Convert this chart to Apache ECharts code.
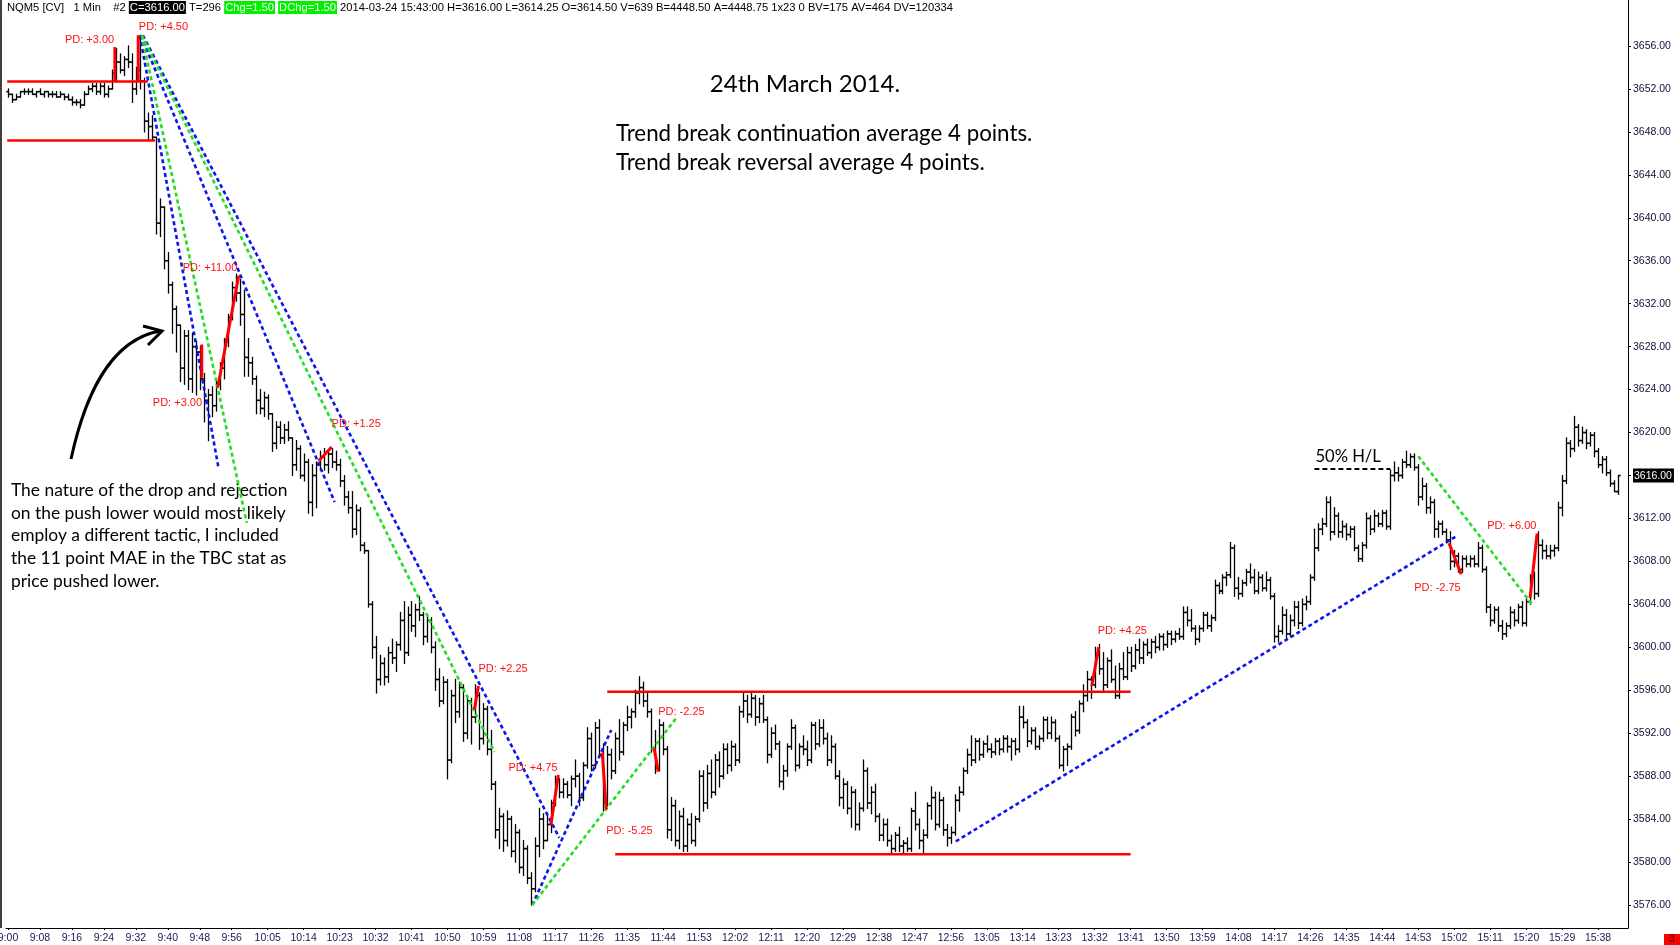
<!DOCTYPE html>
<html>
<head>
<meta charset="utf-8">
<title>NQM5 [CV] 1 Min – 24th March 2014</title>
<script src="https://cdn.jsdelivr.net/npm/echarts@6/dist/echarts.min.js"></script>
<style>
html,body{margin:0;padding:0;background:#fff;}
#chart{width:1680px;height:945px;}
</style>
</head>
<body>
<div id="chart"></div>
<script>
// ---------- categories: one bar per minute, 9:00 .. 15:43 ----------
const sessionStartMinute = 9 * 60;
const barCount = 404;
const times = [];
for (let m = 0; m < barCount; m++) {
  const t = sessionStartMinute + m;
  times.push(Math.floor(t / 60) + ':' + String(t % 60).padStart(2, '0'));
}

// ---------- tick labels ----------
const timeLabels = ['9:00','9:08','9:16','9:24','9:32','9:40','9:48','9:56','10:05','10:14','10:23','10:32','10:41','10:50','10:59','11:08','11:17','11:26','11:35','11:44','11:53','12:02','12:11','12:20','12:29','12:38','12:47','12:56','13:05','13:14','13:23','13:32','13:41','13:50','13:59','14:08','14:17','14:26','14:35','14:44','14:53','15:02','15:11','15:20','15:29','15:38'];
const priceTicks = [3576,3580,3584,3588,3592,3596,3600,3604,3608,3612,3616,3620,3624,3628,3632,3636,3640,3644,3648,3652,3656];
const lastPrice = 3616;

// ---------- OHLC bars [open, high, low, close], one array per hour ----------
const bars0900 = [
[3651.75,3652,3651.25,3651.5],[3651.5,3651.5,3650.75,3651],[3651,3651.5,3651,3651.25],[3651.25,3651.75,3651.25,3651.75],[3651.75,3652,3651.5,3651.75],
[3651.75,3652,3651.5,3651.75],[3651.75,3652,3651.5,3651.5],[3651.5,3651.75,3651.25,3651.75],[3651.75,3652,3651.5,3651.5],[3651.5,3651.75,3651.25,3651.75],
[3651.75,3651.75,3651.25,3651.5],[3651.5,3651.75,3651.25,3651.5],[3651.5,3651.75,3651.25,3651.25],[3651.25,3651.75,3651.25,3651.5],[3651.5,3651.5,3651,3651.25],
[3651.25,3651.5,3651,3651],[3651,3651.25,3650.5,3650.75],[3650.75,3651,3650.5,3650.75],[3650.75,3651,3650.25,3650.5],[3650.5,3651.75,3650.5,3651.5],
[3651.5,3652.25,3651.5,3652],[3652,3652.5,3651.75,3652.25],[3652.25,3652.5,3651.5,3651.75],[3651.75,3652.5,3651.5,3652.25],[3652.25,3652.5,3651.25,3651.5],
[3651.5,3652.25,3651.25,3652],[3652,3653.75,3652,3653.5],[3653.5,3655.75,3652.75,3654.5],[3654.5,3655.25,3653.5,3653.75],[3653.75,3655,3653.25,3654.75],
[3654.75,3656,3654,3654.5],[3654.5,3655.25,3650.75,3652],[3652,3654,3651.5,3653.75],[3653.75,3657,3652,3652.75],[3652.75,3653,3648,3649],
[3649,3649.75,3647.25,3648.5],[3648.5,3649.5,3647.25,3647.5],[3647.5,3647.5,3638.5,3639.5],[3639.5,3641.75,3638.25,3641],[3641,3641,3635.25,3636],
[3636,3636.75,3633,3633.75],[3633.75,3634,3629.25,3631.5],[3631.5,3631.75,3627.5,3630],[3630,3630,3624.75,3626],[3626,3629.5,3624.5,3629],
[3629,3629.5,3624,3625],[3625,3629.25,3623.75,3628],[3628,3628.5,3623.5,3627.5],[3627.5,3628,3624,3625],[3625,3625.5,3621,3623],
[3623,3624,3619.25,3623.5],[3623.5,3624.25,3621.5,3622.5],[3622.5,3625,3622,3624.5],[3624.5,3626.5,3624,3626],[3626,3628.75,3625,3628.5],
[3628.5,3631,3628,3630.75],[3630.75,3634,3630.5,3633.5],[3633.5,3634.75,3632.25,3633],[3633,3634.25,3630,3631],[3631,3633.25,3625.25,3627]
];
const bars1000 = [
[3627,3628.75,3625.25,3626.5],[3626.5,3627,3624.5,3625],[3625,3625.25,3621.75,3623],[3623,3624,3621.75,3622.25],[3622.25,3623.75,3621.5,3623.25],
[3623.25,3623.5,3621.25,3621.75],[3621.75,3621.75,3618.25,3619],[3619,3621,3618.5,3620.5],[3620.5,3621,3619,3619.5],[3619.5,3620.75,3619,3620.25],
[3620.25,3621,3619.25,3619.5],[3619.5,3619.5,3616,3617],[3617,3619.25,3616.5,3618.5],[3618.5,3618.75,3615.75,3616],[3616,3618,3615.5,3617.25],
[3617.25,3617.5,3612.5,3613.5],[3613.5,3617,3612.25,3616],[3616,3617.25,3613,3617],[3617,3618.25,3616.5,3617.75],[3617.75,3618.5,3616.5,3617],
[3617,3618.25,3616.25,3618],[3618,3618.5,3616.75,3617.25],[3617.25,3618.25,3616.5,3617],[3617,3617.5,3615,3615.5],[3615.5,3616,3613.25,3614],
[3614,3614.5,3612.5,3613],[3613,3614.5,3610.25,3611],[3611,3613.25,3610.5,3612.75],[3612.75,3613,3609,3609.5],[3609.5,3609.75,3608.75,3609],
[3609,3609,3603.75,3604],[3604,3604.25,3599,3600],[3600,3601,3595.75,3597],[3597,3599.25,3596.5,3598.5],[3598.5,3599,3596.5,3597.25],
[3597.25,3600,3596.75,3599.5],[3599.5,3600.75,3598.5,3599],[3599,3600.5,3597.75,3600.25],[3600.25,3603.25,3599.75,3602.5],[3602.5,3604.25,3598.5,3599.5],
[3599.5,3603.75,3599.25,3603],[3603,3604.25,3601.5,3602],[3602,3604,3601,3603.5],[3603.5,3604.75,3602.5,3603],[3603,3603.25,3600.25,3601],
[3601,3603,3600.5,3602.5],[3602.5,3602.75,3599.5,3600],[3600,3600.5,3596,3597],[3597,3598,3594.5,3595],[3595,3597.25,3594.75,3596.75],
[3596.75,3597,3587.75,3589.5],[3589.5,3596,3589.25,3595.5],[3595.5,3597,3593,3594],[3594,3596.75,3593.5,3596.25],[3596.25,3596.5,3591.25,3592],
[3592,3595.5,3591.5,3595],[3595,3595.25,3591,3593.5],[3593.5,3596.5,3593,3595.5],[3595.5,3595.75,3590.5,3591.5],[3591.5,3594.75,3591,3594.25]
];
const bars1100 = [
[3594.25,3594.5,3590,3590.5],[3590.5,3592.25,3586.75,3587.25],[3587.25,3587.5,3582.25,3583],[3583,3585,3581.25,3584.25],[3584.25,3584.5,3581,3582],
[3582,3584.75,3581.5,3584],[3584,3584.25,3580.5,3581],[3581,3583.5,3580,3582.75],[3582.75,3583,3579,3579.5],[3579.5,3582,3578.75,3581.25],
[3581.25,3581.5,3578,3578.5],[3578.5,3579,3576,3577.5],[3577.5,3582.25,3577.25,3581.5],[3581.5,3585,3580.5,3584],[3584,3584.5,3581.25,3582],
[3582,3584.5,3582,3583.5],[3583.5,3585.75,3582.75,3585.5],[3585.5,3588,3585.25,3587.5],[3587.5,3587.75,3586,3586.5],[3586.5,3587.75,3586,3587.25],
[3587.25,3587.5,3586,3586.25],[3586.25,3588,3585.25,3587.75],[3587.75,3589.5,3587,3588],[3588,3588.25,3585.25,3586],[3586,3589.25,3585.75,3589],
[3589,3592.5,3588.75,3591.5],[3591.5,3592,3588.5,3589],[3589,3593,3588.75,3592.5],[3592.5,3593.25,3589.75,3590],[3590,3591,3584.75,3585.5],
[3585.5,3590.75,3585.25,3590],[3590,3590.5,3587.75,3588.5],[3588.5,3592,3588.25,3591.5],[3591.5,3593.25,3589.5,3590.25],[3590.25,3593,3590,3592.75],
[3592.75,3594.5,3592.25,3593.5],[3593.5,3594.25,3592.5,3594],[3594,3596,3593.5,3595.75],[3595.75,3597.25,3594.75,3596.25],[3596.25,3596.75,3594.5,3595],
[3595,3595.75,3593.5,3594],[3594,3594.25,3590.25,3590.5],[3590.5,3592.25,3588.25,3588.75],[3588.75,3593.25,3588.5,3592.75],[3592.75,3593,3590,3590.5],
[3590.5,3590.75,3582.25,3583],[3583,3586,3582,3585.25],[3585.25,3585.75,3581.5,3582],[3582,3584.75,3581.25,3584.25],[3584.25,3585,3581,3581.5],
[3581.5,3584,3581,3583.5],[3583.5,3584.5,3581.75,3582],[3582,3584.25,3581.5,3584],[3584,3588.5,3583.75,3588],[3588,3588.5,3584.75,3585.5],
[3585.5,3589,3585,3588.25],[3588.25,3589.5,3586,3586.5],[3586.5,3590,3586.25,3589.5],[3589.5,3590.25,3587,3588],[3588,3591,3587.75,3590.5]
];
const bars1200 = [
[3590.5,3591,3588.25,3589],[3589,3591.25,3588.5,3590.75],[3590.75,3591,3589,3589.5],[3589.5,3594.5,3589.25,3594],[3594,3595.75,3593.5,3595],
[3595,3595.5,3593,3593.75],[3593.75,3595.75,3593.5,3595.25],[3595.25,3595.5,3592.75,3593.5],[3593.5,3595.25,3593,3594.75],[3594.75,3595.5,3593,3593.25],
[3593.25,3593.5,3589.25,3590],[3590,3592.5,3589.75,3592],[3592,3592.75,3590.5,3591],[3591,3591.25,3587,3587.5],[3587.5,3589,3586.75,3588.5],
[3588.5,3591,3588,3590.75],[3590.75,3593.25,3590.5,3592.5],[3592.5,3592.75,3588.5,3589],[3589,3591,3588.75,3590.75],[3590.75,3591.75,3590,3590.5],
[3590.5,3591.25,3589,3589.5],[3589.5,3593,3589.25,3592.75],[3592.75,3593,3590.5,3591],[3591,3593.25,3590.75,3592.5],[3592.5,3593.25,3591,3591.5],
[3591.5,3592,3589,3589.5],[3589.5,3591.75,3589.25,3590.75],[3590.75,3591,3587.75,3588],[3588,3588.5,3585.25,3586],[3586,3587.75,3585,3587.25],
[3587.25,3587.5,3584.5,3585],[3585,3587,3583.25,3586.5],[3586.5,3586.75,3583,3583.5],[3583.5,3585.5,3583,3585],[3585,3589.5,3584.75,3588.5],
[3588.5,3588.75,3585,3585.5],[3585.5,3587,3584.5,3586.5],[3586.5,3587.25,3583.75,3584.25],[3584.25,3584.5,3582,3582.5],[3582.5,3584,3582,3583.5],
[3583.5,3584,3581.5,3582],[3582,3582.5,3580.75,3581.25],[3581.25,3582.75,3581,3582.5],[3582.5,3583.25,3581,3581.5],[3581.5,3582,3580.75,3581.75],
[3581.75,3582.25,3581,3581.25],[3581.25,3585,3581,3584.75],[3584.75,3586.5,3583,3583.5],[3583.5,3584,3581.25,3582],[3582,3583,3580.75,3582.5],
[3582.5,3585.5,3582.25,3585.25],[3585.25,3587,3584,3586],[3586,3586.5,3583,3583.5],[3583.5,3586.5,3583.25,3585.75],[3585.75,3586,3582.5,3583],
[3583,3583.5,3581.5,3582.25],[3582.25,3583.25,3581.75,3582.75],[3582.75,3586.25,3582.5,3585.75],[3585.75,3587,3584.75,3586.5],[3586.5,3588.75,3586.25,3588.5]
];
const bars1300 = [
[3588.5,3590.5,3588.25,3590],[3590,3591.75,3589,3589.5],[3589.5,3591.5,3589.25,3591.25],[3591.25,3591.5,3589.5,3590],[3590,3591.25,3589.75,3591],
[3591,3591.75,3590.25,3590.5],[3590.5,3591,3589.75,3590.25],[3590.25,3591.5,3590,3591.25],[3591.25,3591.5,3590,3590.5],[3590.5,3591.75,3590.25,3591.5],
[3591.5,3591.75,3590.25,3590.75],[3590.75,3591.5,3589.5,3591.25],[3591.25,3591.5,3590,3590.5],[3590.5,3594.5,3590.25,3593.5],[3593.5,3594.5,3592.5,3593],
[3593,3593.25,3590.75,3591.25],[3591.25,3592.5,3591,3592.25],[3592.25,3592.5,3590.5,3590.75],[3590.75,3591.75,3590.5,3591.5],[3591.5,3593.5,3591.25,3593.25],
[3593.25,3593.5,3591.5,3592],[3592,3593.5,3591.5,3593],[3593,3593.25,3591.25,3591.5],[3591.5,3591.75,3588.75,3589],[3589,3590.75,3588.5,3590.5],
[3590.5,3591,3589,3590.75],[3590.75,3593.75,3590.5,3593.5],[3593.5,3594,3591.75,3592.25],[3592.25,3595,3592,3594.75],[3594.75,3596.5,3594,3595.5],
[3595.5,3597.75,3595,3597],[3597,3597.25,3595.25,3596.5],[3596.5,3600,3596.25,3599.25],[3599.25,3600.25,3597.5,3598],[3598,3599.5,3596,3596.5],
[3596.5,3599,3596.25,3598.75],[3598.75,3599.75,3596.75,3597],[3597,3598.25,3595.25,3595.5],[3595.5,3598.5,3595.25,3598],[3598,3599.5,3597,3597.25],
[3597.25,3600,3597,3599.5],[3599.5,3600,3597.75,3598.25],[3598.25,3600.25,3598,3599.75],[3599.75,3600.75,3598.5,3599],[3599,3600.5,3598.5,3600.25],
[3600.25,3600.75,3599.25,3599.5],[3599.5,3600.75,3599,3600.5],[3600.5,3601,3599.5,3600],[3600,3601.25,3599.75,3601],[3601,3601.25,3599.75,3600.25],
[3600.25,3601.5,3600,3601.25],[3601.25,3601.5,3600.25,3600.75],[3600.75,3601.5,3600.5,3601.25],[3601.25,3601.75,3600.75,3601],[3601,3603.75,3600.75,3603.25],
[3603.25,3603.75,3602,3602.5],[3602.5,3603.5,3601.5,3601.75],[3601.75,3602,3600.25,3600.75],[3600.75,3602,3600.5,3601.75],[3601.75,3603.25,3601.5,3603]
];
const bars1400 = [
[3603,3603.25,3601.75,3602],[3602,3603,3601.5,3602.75],[3602.75,3606.25,3602.5,3605.75],[3605.75,3606,3605,3605.25],[3605.25,3606.75,3605,3606.5],
[3606.5,3607,3605.75,3606.75],[3606.75,3609.75,3606.5,3609.25],[3609.25,3609.5,3604.75,3605.5],[3605.5,3606.5,3604.5,3605],[3605,3606.25,3604.75,3606],
[3606,3607.25,3605.75,3607],[3607,3607.75,3606,3606.5],[3606.5,3607.25,3605,3605.25],[3605.25,3607,3605,3606.5],[3606.5,3606.75,3605.25,3605.5],
[3605.5,3607,3605.25,3606.25],[3606.25,3606.5,3604.5,3604.75],[3604.75,3605,3600.5,3601],[3601,3602,3600.5,3601.5],[3601.5,3603.75,3601.25,3603],
[3603,3603.5,3600.75,3601.25],[3601.25,3603,3601,3602.5],[3602.5,3604.25,3602,3603.75],[3603.75,3604.25,3601.75,3602.25],[3602.25,3604.5,3602,3604],
[3604,3604.75,3603.5,3604.25],[3604.25,3606.75,3604,3606.5],[3606.5,3611,3606.25,3609.25],[3609.25,3611.5,3609,3611],[3611,3612,3610.5,3611.5],
[3611.5,3614,3611.25,3613.5],[3613.5,3614,3610,3610.75],[3610.75,3613,3610.5,3612.25],[3612.25,3612.5,3610.25,3610.75],[3610.75,3611.75,3610.25,3611.25],
[3611.25,3611.5,3610,3610.5],[3610.5,3611.25,3610.25,3611],[3611,3611.25,3609,3609.25],[3609.25,3609.5,3608,3608.25],[3608.25,3609.75,3608,3609.5],
[3609.5,3612.5,3609.25,3612],[3612,3612.25,3610.5,3611],[3611,3612.75,3610.75,3612.25],[3612.25,3612.5,3611.25,3611.5],[3611.5,3612.75,3611.25,3612.5],
[3612.5,3612.75,3611,3611.25],[3611.25,3616.5,3611,3616],[3616,3617.25,3615.5,3616.25],[3616.25,3616.75,3615.5,3616],[3616,3617.5,3615.75,3617.25],
[3617.25,3618.25,3616.75,3617],[3617,3618,3616.75,3617.75],[3617.75,3618,3616.5,3616.75],[3616.75,3617,3613.25,3614],[3614,3615.75,3613.75,3615],
[3615,3615.25,3612.5,3613],[3613,3614,3612.5,3613.5],[3613.5,3613.75,3610.25,3611],[3611,3611.75,3610.25,3611.5],[3611.5,3611.75,3610.5,3610.75]
];
const bars1500 = [
[3610.75,3611,3609.75,3610],[3610,3610.75,3607.25,3608],[3608,3609,3607.5,3608.5],[3608.5,3608.75,3607,3607.25],[3607.25,3608.5,3607,3608.25],
[3608.25,3608.5,3607.5,3607.75],[3607.75,3608.5,3607.5,3608.25],[3608.25,3608.5,3607.5,3607.75],[3607.75,3609.75,3607.5,3609.25],[3609.25,3609.5,3607,3607.25],
[3607.25,3607.5,3603.25,3603.75],[3603.75,3604,3602,3602.5],[3602.5,3603.75,3602.25,3603.5],[3603.5,3603.75,3601.5,3602],[3602,3602.5,3600.75,3601.25],
[3601.25,3602.25,3601,3602],[3602,3603.75,3601.75,3603.25],[3603.25,3603.5,3602,3602.5],[3602.5,3604,3602.25,3603.75],[3603.75,3604.25,3602,3602.25],
[3602.25,3604.5,3602,3604.25],[3604.25,3606.75,3604,3606.5],[3606.5,3607,3604.5,3605],[3605,3610.75,3604.75,3609.5],[3609.5,3610,3608.25,3609],
[3609,3609.5,3608.25,3608.5],[3608.5,3609.5,3608.25,3609],[3609,3609.5,3608.5,3609.25],[3609.25,3613.5,3609,3613],[3613,3616,3612.25,3615.5],
[3615.5,3619.5,3615.25,3619],[3619,3619.25,3617.75,3618.5],[3618.5,3621.5,3618.25,3620.5],[3620.5,3620.75,3618.75,3619.25],[3619.25,3620.5,3619,3620],
[3620,3620.25,3618.5,3619],[3619,3620,3618.75,3619.75],[3619.75,3620,3617.75,3618.25],[3618.25,3618.5,3616.75,3617],[3617,3617.75,3616.25,3617.5],
[3617.5,3617.75,3616,3616.25],[3616.25,3616.5,3615,3615.25],[3615.25,3615.5,3614.5,3614.5],[3614.5,3616,3614.25,3616]
];

// ---------- annotation lines [barIndex1, price1, barIndex2, price2] ----------
const redLevels = [[-0.2,3652.7,35,3652.7],[-0.2,3647.2,36.8,3647.2],[150,3595.85,281,3595.85],[152,3580.73,281,3580.73]];
const pdMoves = [[26.75,3652.68,26.75,3655.9],[32.6,3652.68,32.6,3657.0],[52.5,3624.2,57.75,3634.6],[48.5,3628.2,48.5,3625.1],
  [77.75,3617.36,81,3618.66],[116.75,3594.2,117.75,3596.4],[135.9,3583.47,137.75,3588.1],[148.75,3590.2,149.75,3584.9],
  [161.75,3590.6,162.75,3588.4],[271.3,3596.4,273,3600.0],[360.7,3609.7,363.75,3606.8],[381,3604.6,382.75,3610.6]];
const blueTrends = [[33,3657.0,52.75,3616.6],[33.25,3657.0,81.75,3613.54],[33.75,3657.0,138,3582.26],[131.25,3576.0,151,3592.3],[237.25,3581.93,362.75,3610.4]];
const greenTrends = [[33.5,3657.0,59.75,3611.6],[33.5,3657.0,121.75,3590.26],[131.25,3576.0,167.25,3593.4],[353,3617.8,381.5,3604.0]];
const halfRangeLine = [[327,3616.6,346,3616.6]];

// ---------- annotation labels ----------
const pdLabelPos = [[14.25,3656.56],[32.75,3657.77],[43.75,3635.33],[36.25,3622.76],[81,3620.8],[117.75,3598.0],[125.25,3588.78],[149.75,3582.9],[162.75,3593.99],[272.75,3601.53],[352,3605.53],[370.25,3611.31]];
const pdLabelText = ['PD: +3.00','PD: +4.50','PD: +11.00','PD: +3.00','PD: +1.25','PD: +2.25','PD: +4.75','PD: -5.25','PD: -2.25','PD: +4.25','PD: -2.75','PD: +6.00'];
const halfLabelPos = [[327.25,3617.73]];
const halfLabelText = ['50% H/L'];

// ---------- build data ----------
const allBars = [].concat(bars0900, bars1000, bars1100, bars1200, bars1300, bars1400, bars1500);
const barData = allBars.map((b, i) => [i, b[0], b[1], b[2], b[3]]);
const labelIdx = timeLabels.map(t => times.indexOf(t));

const LIB = '"Liberation Sans", Arial, sans-serif';
const CAL = 'Lato, "Open Sans", sans-serif';

function renderBar(params, api) {
  const x = api.value(0);
  const pO = api.coord([x, api.value(1)]);
  const pH = api.coord([x, api.value(2)]);
  const pL = api.coord([x, api.value(3)]);
  const pC = api.coord([x, api.value(4)]);
  const cx = Math.round(pH[0]) + 0.5;
  return {
    type: 'group',
    children: [
      { type: 'line', shape: { x1: cx, y1: pH[1] - 0.6, x2: cx, y2: pL[1] + 0.6 }, style: { stroke: '#000', lineWidth: 1.3 } },
      { type: 'line', shape: { x1: cx - 2.2, y1: pO[1], x2: cx, y2: pO[1] }, style: { stroke: '#000', lineWidth: 1.6 } },
      { type: 'line', shape: { x1: cx, y1: pC[1], x2: cx + 2.2, y2: pC[1] }, style: { stroke: '#000', lineWidth: 1.6 } }
    ]
  };
}
function lineRenderer(color, width, dash) {
  return function (params, api) {
    const p1 = api.coord([api.value(0), api.value(1)]);
    const p2 = api.coord([api.value(2), api.value(3)]);
    return {
      type: 'line',
      shape: { x1: p1[0], y1: p1[1], x2: p2[0], y2: p2[1] },
      style: { stroke: color, lineWidth: width, lineDash: dash || null, fill: null }
    };
  };
}
function labelRenderer(texts, font, color) {
  return function (params, api) {
    const p = api.coord([api.value(0), api.value(1)]);
    return {
      type: 'text', x: p[0], y: p[1],
      style: { text: texts[params.dataIndex], font: font, fill: color, align: 'left', verticalAlign: 'middle' }
    };
  };
}
function lineSeries(name, data, color, width, dash) {
  return { type: 'custom', name: name, data: data, encode: { x: [0, 2], y: [1, 3] }, renderItem: lineRenderer(color, width, dash), silent: true, z: 5 };
}

// y range: 3656 sits at y=46 and 3576 at y=905 on the 945px page
const yMax = 3660.284, yMin = 3573.858;

const chart = echarts.init(document.getElementById('chart'), null, { renderer: 'canvas' });
chart.setOption({
  animation: false,
  backgroundColor: '#fff',
  grid: { left: 6, right: 52, top: 0, bottom: 17, containLabel: false, outerBoundsMode: 'none' },
  xAxis: {
    type: 'value', min: -0.5, max: 405.5,
    axisLine: { show: true, onZero: false, lineStyle: { color: '#000', width: 1 } },
    axisTick: { show: true, customValues: labelIdx, length: 2, lineStyle: { color: '#000' } },
    axisLabel: { customValues: labelIdx, formatter: v => times[Math.round(v)] || '', fontFamily: LIB, fontSize: 10.5, color: '#1a1a50', margin: 5 },
    splitLine: { show: false }
  },
  yAxis: {
    type: 'value', position: 'right', min: yMin, max: yMax,
    axisLine: { show: true, onZero: false, lineStyle: { color: '#000', width: 1 } },
    axisTick: { show: true, customValues: priceTicks, length: 3, lineStyle: { color: '#000' } },
    axisLabel: {
      customValues: priceTicks,
      formatter: v => (v === lastPrice ? '{cur|' + v.toFixed(2) + '}' : v.toFixed(2)),
      fontFamily: LIB, fontSize: 10.5, color: '#10103a', margin: 5,
      rich: { cur: { backgroundColor: '#000', color: '#fff', fontFamily: LIB, fontSize: 10.5, padding: [2, 2, 1, 1] } }
    },
    splitLine: { show: false }
  },
  series: [
    { type: 'custom', name: 'NQM5', data: barData, encode: { x: 0, y: [1, 2, 3, 4] }, renderItem: renderBar, silent: true, z: 2 },
    lineSeries('levels', redLevels, '#ff0000', 2.5),
    lineSeries('blue', blueTrends, '#0a14f0', 2.6, [4, 3]),
    lineSeries('green', greenTrends, '#1ee01e', 2.6, [4, 3]),
    lineSeries('half', halfRangeLine, '#000', 2, [5, 3]),
    lineSeries('pd', pdMoves, '#ff0000', 3),
    { type: 'custom', name: 'pdLabels', data: pdLabelPos, encode: { x: 0, y: 1 }, renderItem: labelRenderer(pdLabelText, '11px ' + LIB, '#ff1010'), silent: true, z: 6 },
    { type: 'custom', name: 'halfLabel', data: halfLabelPos, encode: { x: 0, y: 1 }, renderItem: labelRenderer(halfLabelText, '16.6px ' + CAL, '#000'), silent: true, z: 6 }
  ],
  graphic: [
    { type: 'line', shape: { x1: 1, y1: 0, x2: 1, y2: 928 }, style: { stroke: '#000', lineWidth: 1.5 }, silent: true },
    { type: 'text', x: 7, y: 1, silent: true, style: {
        text: 'NQM5 [CV]   1 Min    #2 {k|C=3616.00} T=296 {g|Chg=1.50} {g|DChg=1.50} 2014-03-24 15:43:00 H=3616.00 L=3614.25 O=3614.50 V=639 B=4448.50 A=4448.75 1x23 0 BV=175 AV=464 DV=120334',
        font: '11.2px ' + LIB, fill: '#000', align: 'left', verticalAlign: 'top',
        rich: {
          k: { backgroundColor: '#000', fill: '#fff', font: '11.2px ' + LIB, padding: [1, 1, 1, 1] },
          g: { backgroundColor: '#00f000', fill: '#fff', font: '11.2px ' + LIB, padding: [1, 1, 1, 1] }
        } } },
    { type: 'text', x: 805, y: 84, silent: true, style: { text: '24th March 2014.', font: '24px ' + CAL, fill: '#000', align: 'center', verticalAlign: 'middle' } },
    { type: 'text', x: 616, y: 134, silent: true, style: { text: 'Trend break continuation average 4 points.', font: '22.3px ' + CAL, fill: '#000', align: 'left', verticalAlign: 'middle' } },
    { type: 'text', x: 616, y: 163, silent: true, style: { text: 'Trend break reversal average 4 points.', font: '22.3px ' + CAL, fill: '#000', align: 'left', verticalAlign: 'middle' } },
    { type: 'text', x: 11, y: 479, silent: true, style: {
        text: 'The nature of the drop and rejection\non the push lower would most likely\nemploy a different tactic, I included\nthe 11 point MAE in the TBC stat as\nprice pushed lower.',
        font: '17.4px ' + CAL, fill: '#000', lineHeight: 22.7, align: 'left', verticalAlign: 'top' } },
    { type: 'bezierCurve', silent: true, shape: { x1: 71, y1: 459, cpx1: 85, cpy1: 395, cpx2: 110, cpy2: 340, x2: 160, y2: 331 }, style: { stroke: '#000', lineWidth: 3, fill: 'none' } },
    { type: 'polyline', silent: true, shape: { points: [[143, 326], [162, 331], [148, 345]] }, style: { stroke: '#000', lineWidth: 3, fill: 'none', lineJoin: 'miter' } },
    { type: 'rect', silent: true, shape: { x: 1664, y: 934, width: 16, height: 11 }, style: { fill: '#ff0000' } },
    { type: 'text', x: 1672, y: 939.5, silent: true, style: { text: '3', font: '10px ' + LIB, fill: '#400000', align: 'center', verticalAlign: 'middle' } }
  ]
});
</script>
</body>
</html>
